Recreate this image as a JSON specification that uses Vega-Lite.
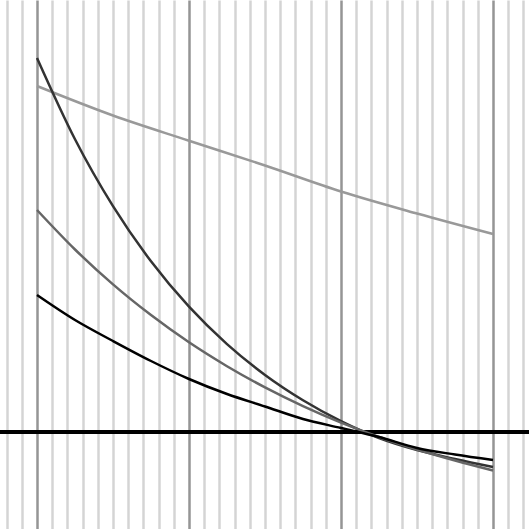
{
  "$schema": "https://vega.github.io/schema/vega-lite/v6.json",
  "width": 529,
  "height": 529,
  "autosize": {"type": "none"},
  "padding": 0,
  "background": "white",
  "config": {"view": {"stroke": null}},
  "datasets": {
    "curves": [
      {"series": "light", "x": 0, "y": 3.46},
      {"series": "light", "x": 0.5, "y": 3.165},
      {"series": "light", "x": 1, "y": 2.913},
      {"series": "light", "x": 1.5, "y": 2.665},
      {"series": "light", "x": 2, "y": 2.405},
      {"series": "light", "x": 2.5, "y": 2.185},
      {"series": "light", "x": 3, "y": 1.98},
      {"series": "dark", "x": 0, "y": 3.74},
      {"series": "dark", "x": 0.25, "y": 2.927},
      {"series": "dark", "x": 0.5, "y": 2.258},
      {"series": "dark", "x": 0.75, "y": 1.707},
      {"series": "dark", "x": 1, "y": 1.253},
      {"series": "dark", "x": 1.25, "y": 0.879},
      {"series": "dark", "x": 1.5, "y": 0.571},
      {"series": "dark", "x": 1.75, "y": 0.318},
      {"series": "dark", "x": 2, "y": 0.109},
      {"series": "dark", "x": 2.25, "y": -0.06},
      {"series": "dark", "x": 2.5, "y": -0.18},
      {"series": "dark", "x": 2.75, "y": -0.27},
      {"series": "dark", "x": 3, "y": -0.35},
      {"series": "mid", "x": 0, "y": 2.22},
      {"series": "mid", "x": 0.25, "y": 1.825},
      {"series": "mid", "x": 0.5, "y": 1.476},
      {"series": "mid", "x": 0.75, "y": 1.169},
      {"series": "mid", "x": 1, "y": 0.897},
      {"series": "mid", "x": 1.25, "y": 0.658},
      {"series": "mid", "x": 1.5, "y": 0.446},
      {"series": "mid", "x": 1.75, "y": 0.259},
      {"series": "mid", "x": 2, "y": 0.094},
      {"series": "mid", "x": 2.25, "y": -0.05},
      {"series": "mid", "x": 2.5, "y": -0.175},
      {"series": "mid", "x": 2.75, "y": -0.285},
      {"series": "mid", "x": 3, "y": -0.385},
      {"series": "black", "x": 0, "y": 1.37},
      {"series": "black", "x": 0.25, "y": 1.12},
      {"series": "black", "x": 0.5, "y": 0.91},
      {"series": "black", "x": 0.75, "y": 0.71},
      {"series": "black", "x": 1, "y": 0.53},
      {"series": "black", "x": 1.25, "y": 0.38},
      {"series": "black", "x": 1.5, "y": 0.255},
      {"series": "black", "x": 1.75, "y": 0.13},
      {"series": "black", "x": 2, "y": 0.04},
      {"series": "black", "x": 2.25, "y": -0.05},
      {"series": "black", "x": 2.5, "y": -0.16},
      {"series": "black", "x": 2.75, "y": -0.225},
      {"series": "black", "x": 3, "y": -0.28}
    ]
  },
  "data": {"name": "curves"},
  "layer": [
    {
      "mark": {"type": "rule", "color": "black", "strokeWidth": 2.5},
      "encoding": {
        "y": {"datum": 0, "type": "quantitative", "scale": {"domain": [-0.97, 4.32], "nice": false, "zero": false}, "axis": null}
      }
    },
    {
      "mark": {"type": "line", "strokeWidth": 2.5, "interpolate": "monotone"},
      "encoding": {
        "x": {
          "field": "x", "type": "quantitative",
          "scale": {"domain": [-0.2434, 3.2368], "nice": false, "zero": false},
          "axis": {
            "values": [-0.2, -0.1, 0, 0.1, 0.2, 0.3, 0.4, 0.5, 0.6, 0.7, 0.8, 0.9, 1, 1.1, 1.2, 1.3, 1.4, 1.5, 1.6, 1.7, 1.8, 1.9, 2, 2.1, 2.2, 2.3, 2.4, 2.5, 2.6, 2.7, 2.8, 2.9, 3, 3.1, 3.2],
            "grid": true,
            "gridColor": {"condition": {"test": "datum.value % 1 === 0", "value": "#959595"}, "value": "#d4d4d4"},
            "gridWidth": 2.5,
            "gridOpacity": 1,
            "labels": false,
            "ticks": false,
            "domain": false,
            "title": null
          }
        },
        "y": {"field": "y", "type": "quantitative", "scale": {"domain": [-0.97, 4.32], "nice": false, "zero": false}, "axis": null},
        "color": {
          "field": "series", "type": "nominal",
          "scale": {"domain": ["light", "dark", "mid", "black"], "range": ["#999999", "#333333", "#666666", "#000000"]},
          "legend": null
        },
        "detail": {"field": "series"}
      }
    }
  ]
}
